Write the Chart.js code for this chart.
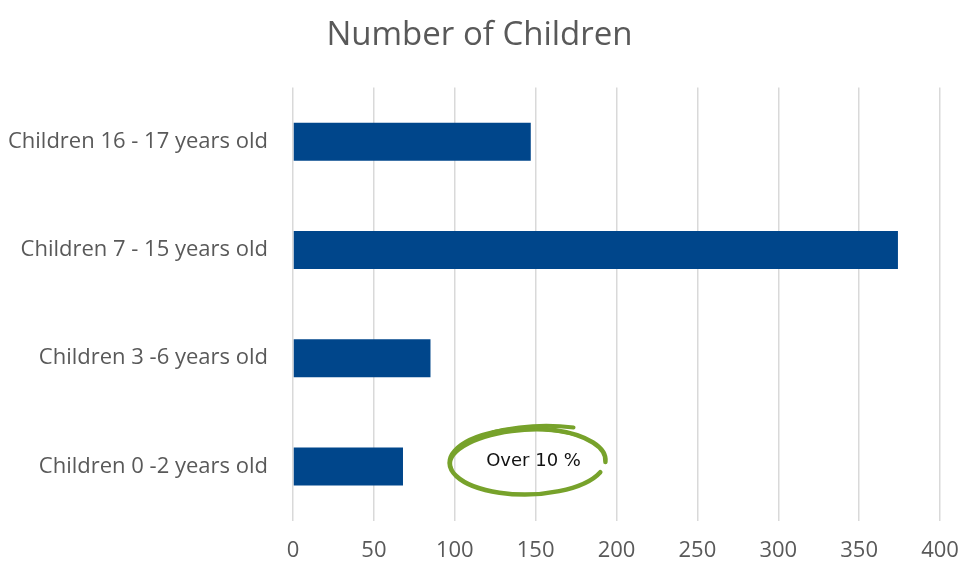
<!DOCTYPE html>
<html>
<head>
<meta charset="utf-8">
<script src="https://cdn.jsdelivr.net/npm/chart.js@4.4.1/dist/chart.umd.min.js"></script>
<style>
  html, body { margin: 0; padding: 0; background: #fff; }
  #wrap { width: 959px; height: 561px; }
</style>
</head>
<body>
<div id="wrap"><canvas id="childrenChart" width="959" height="561"></canvas></div>
<script>
const categories = [
    "Children 16 - 17 years old",
    "Children 7 - 15 years old",
    "Children 3 -6 years old",
    "Children 0 -2 years old"
];
const childCounts = [147, 374, 85, 68];
const xTicks = [0, 50, 100, 150, 200, 250, 300, 350, 400];
const noteText = "Over 10 %";

// green hand-drawn circle around the note, placed near the youngest group's bar
const notePlugin = {
    id: "note",
    afterDatasetsDraw(chart) {
        const x = chart.scales.x, y = chart.scales.y;
        const cx = x.getPixelForValue(145);
        const cy = y.getPixelForValue(3) - 6;
        const c = chart.ctx;
        c.save();
        c.strokeStyle = "#77a22b";
        c.lineCap = "round";
        c.lineWidth = 4.5;
        c.beginPath();
        c.ellipse(cx, cy + 1, 78, 33, -0.02, 0.12 * Math.PI, 2.02 * Math.PI);
        c.stroke();
        c.lineWidth = 3;
        c.beginPath();
        c.ellipse(cx - 2, cy - 1, 75, 29, -0.07, 0.95 * Math.PI, 1.8 * Math.PI);
        c.stroke();
        c.lineWidth = 4;
        c.beginPath();
        c.moveTo(cx - 35, cy - 28);
        c.quadraticCurveTo(cx + 5, cy - 38, cx + 46, cy - 33);
        c.stroke();
        c.fillStyle = "#111";
        c.font = "18px 'DejaVu Sans', sans-serif";
        c.textAlign = "center";
        c.textBaseline = "middle";
        c.fillText(noteText, cx + 6, cy + 1);
        c.restore();
    }
};

const ctx = document.getElementById("childrenChart").getContext("2d");
new Chart(ctx, {
    type: "bar",
    data: {
        labels: categories,
        datasets: [{
            label: "Number of Children",
            data: childCounts,
            backgroundColor: "#00468b",
            borderWidth: 0,
            categoryPercentage: 1,
            barPercentage: 0.35
        }]
    },
    options: {
        indexAxis: "y",
        responsive: false,
        animation: false,
        layout: { padding: { left: 0, right: 0, top: 16, bottom: -20 } },
        plugins: {
            legend: { display: false },
            tooltip: { enabled: false },
            title: {
                display: true,
                text: "Number of Children",
                color: "#595959",
                font: { family: "'Open Sans', sans-serif", size: 33, weight: "normal" },
                padding: { top: 0, bottom: 32 }
            }
        },
        scales: {
            x: {
                min: 0,
                max: 400,
                afterBuildTicks(axis) { axis.ticks = xTicks.map(v => ({ value: v })); },
                afterFit(axis) { axis.paddingRight = 19; },
                grid: { color: "#d9d9d9", lineWidth: 1.5, drawTicks: false },
                border: { display: false },
                ticks: {
                    color: "#595959",
                    padding: 17,
                    font: { family: "'Open Sans', sans-serif", size: 22 }
                }
            },
            y: {
                afterFit(axis) { axis.width = 293; },
                grid: { display: false, drawTicks: false },
                border: { display: false },
                ticks: {
                    color: "#595959",
                    padding: 25,
                    font: { family: "'Open Sans', sans-serif", size: 22 }
                }
            }
        }
    },
    plugins: [notePlugin]
});
</script>
</body>
</html>
